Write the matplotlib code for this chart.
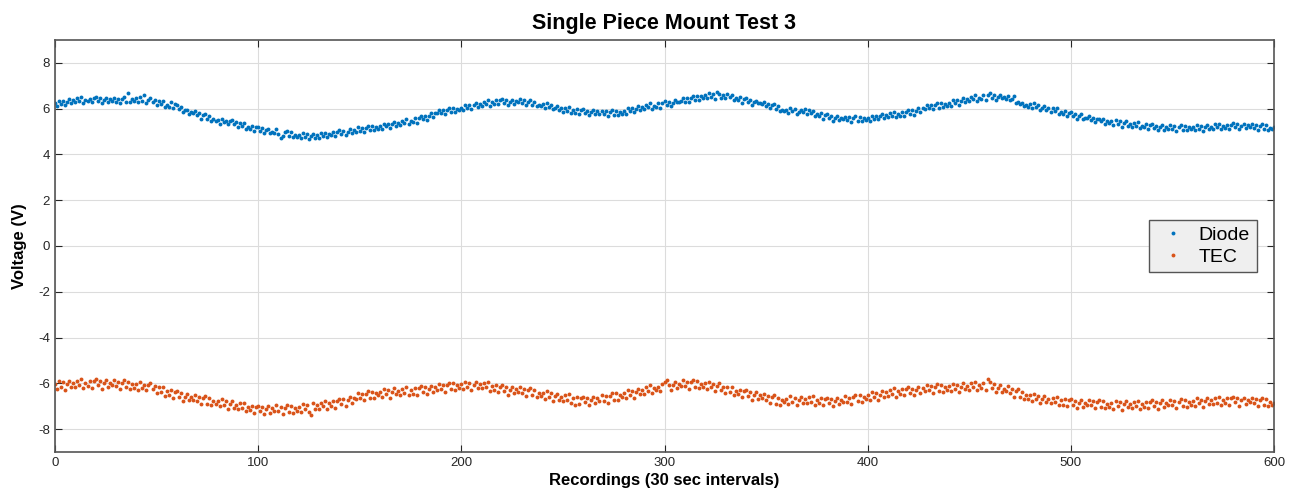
# Single Piece Mount Test 3 - diode and TEC voltage per recording

import numpy as np
import matplotlib
matplotlib.use('Agg')
import matplotlib.pyplot as plt

# recordings 0..600 (one every 30 s)
recordings = np.arange(0, 601)

# diode voltage (V)
diode = [
    6.25, 6.12, 6.35, 6.22, 6.34, 6.15, 6.31, 6.42, 6.25, 6.38,
    6.27, 6.46, 6.34, 6.51, 6.26, 6.40, 6.32, 6.44, 6.27, 6.45,
    6.52, 6.35, 6.46, 6.25, 6.39, 6.48, 6.28, 6.41, 6.33, 6.48,
    6.31, 6.44, 6.24, 6.42, 6.49, 6.30, 6.68, 6.27, 6.41, 6.33,
    6.45, 6.29, 6.49, 6.35, 6.60, 6.25, 6.39, 6.47, 6.27, 6.38,
    6.17, 6.33, 6.19, 6.33, 6.06, 6.18, 6.07, 6.30, 6.05, 6.21,
    6.17, 5.97, 6.06, 5.87, 5.93, 5.95, 5.78, 5.84, 5.83, 5.91,
    5.71, 5.80, 5.57, 5.72, 5.76, 5.53, 5.67, 5.44, 5.53, 5.46,
    5.50, 5.34, 5.54, 5.40, 5.47, 5.31, 5.44, 5.50, 5.31, 5.43,
    5.22, 5.38, 5.24, 5.38, 5.11, 5.20, 5.12, 5.25, 5.02, 5.18,
    5.22, 5.04, 5.14, 4.94, 5.05, 5.13, 4.92, 5.00, 4.95, 5.10,
    4.91, 4.72, 4.79, 4.96, 5.02, 4.80, 4.96, 4.75, 4.85, 4.78,
    4.85, 4.70, 4.92, 4.77, 4.88, 4.67, 4.82, 4.91, 4.73, 4.84,
    4.72, 4.92, 4.81, 4.95, 4.75, 4.88, 4.83, 4.99, 4.80, 4.99,
    5.07, 4.91, 5.04, 4.84, 5.00, 5.10, 4.92, 5.06, 5.00, 5.22,
    5.01, 5.15, 4.96, 5.15, 5.24, 5.06, 5.24, 5.06, 5.20, 5.13,
    5.25, 5.12, 5.35, 5.25, 5.34, 5.15, 5.31, 5.42, 5.26, 5.38,
    5.27, 5.47, 5.37, 5.55, 5.32, 5.48, 5.41, 5.58, 5.39, 5.59,
    5.67, 5.53, 5.68, 5.50, 5.68, 5.80, 5.64, 5.80, 5.80, 5.95,
    5.81, 5.95, 5.76, 5.95, 6.03, 5.85, 6.04, 5.86, 6.00, 5.95,
    6.05, 5.92, 6.16, 6.03, 6.16, 6.00, 6.14, 6.25, 6.09, 6.22,
    6.12, 6.31, 6.20, 6.37, 6.13, 6.28, 6.20, 6.36, 6.20, 6.39,
    6.42, 6.25, 6.37, 6.16, 6.31, 6.40, 6.21, 6.34, 6.27, 6.43,
    6.26, 6.37, 6.15, 6.31, 6.37, 6.16, 6.31, 6.10, 6.18, 6.10,
    6.20, 6.03, 6.23, 6.06, 6.15, 5.99, 6.01, 6.12, 5.96, 6.05,
    5.87, 6.04, 5.91, 6.06, 5.80, 5.93, 5.83, 5.98, 5.75, 5.92,
    5.97, 5.80, 5.91, 5.71, 5.85, 5.95, 5.75, 5.89, 5.78, 5.89,
    5.76, 5.88, 5.68, 5.86, 5.93, 5.73, 5.91, 5.71, 5.84, 5.78,
    5.90, 5.77, 6.01, 5.88, 6.01, 5.85, 5.99, 6.10, 5.94, 6.07,
    5.97, 6.17, 6.08, 6.24, 6.00, 6.13, 6.08, 6.25, 6.05, 6.24,
    6.32, 6.17, 6.30, 6.11, 6.26, 6.37, 6.30, 6.30, 6.32, 6.48,
    6.31, 6.45, 6.27, 6.47, 6.56, 6.38, 6.57, 6.39, 6.54, 6.47,
    6.60, 6.45, 6.67, 6.52, 6.63, 6.42, 6.72, 6.66, 6.48, 6.59,
    6.47, 6.63, 6.49, 6.61, 6.36, 6.45, 6.37, 6.50, 6.25, 6.41,
    6.47, 6.28, 6.38, 6.15, 6.28, 6.35, 6.24, 6.25, 6.22, 6.31,
    6.11, 6.20, 6.05, 6.17, 6.22, 5.98, 6.10, 5.90, 5.95, 5.88,
    5.95, 5.80, 6.02, 5.88, 5.97, 5.76, 5.87, 5.96, 5.86, 5.98,
    5.77, 5.93, 5.79, 5.91, 5.66, 5.77, 5.67, 5.80, 5.57, 5.71,
    5.77, 5.59, 5.70, 5.48, 5.60, 5.70, 5.50, 5.58, 5.54, 5.64,
    5.51, 5.63, 5.43, 5.61, 5.68, 5.48, 5.65, 5.45, 5.58, 5.49,
    5.60, 5.47, 5.70, 5.56, 5.69, 5.55, 5.70, 5.77, 5.60, 5.72,
    5.62, 5.81, 5.70, 5.87, 5.63, 5.78, 5.70, 5.86, 5.70, 5.85,
    5.92, 5.78, 5.92, 5.74, 5.91, 6.03, 5.86, 6.02, 5.99, 6.16,
    6.01, 6.15, 5.98, 6.15, 6.23, 6.05, 6.24, 6.06, 6.20, 6.13,
    6.25, 6.12, 6.36, 6.23, 6.36, 6.17, 6.34, 6.45, 6.29, 6.42,
    6.32, 6.52, 6.41, 6.59, 6.35, 6.48, 6.43, 6.60, 6.40, 6.59,
    6.67, 6.48, 6.59, 6.37, 6.50, 6.58, 6.46, 6.53, 6.43, 6.55,
    6.36, 6.42, 6.56, 6.26, 6.31, 6.21, 6.25, 6.10, 6.17, 6.08,
    6.20, 6.03, 6.23, 6.06, 6.15, 5.92, 6.03, 6.12, 5.96, 6.05,
    5.87, 6.03, 5.89, 6.03, 5.76, 5.85, 5.77, 5.90, 5.67, 5.81,
    5.87, 5.68, 5.78, 5.55, 5.67, 5.75, 5.54, 5.61, 5.59, 5.70,
    5.51, 5.58, 5.41, 5.56, 5.56, 5.47, 5.56, 5.35, 5.46, 5.38,
    5.45, 5.29, 5.50, 5.34, 5.44, 5.22, 5.36, 5.44, 5.25, 5.35,
    5.22, 5.39, 5.26, 5.40, 5.15, 5.25, 5.18, 5.32, 5.10, 5.27,
    5.32, 5.15, 5.26, 5.05, 5.18, 5.27, 5.08, 5.21, 5.11, 5.28,
    5.11, 5.23, 5.03, 5.21, 5.28, 5.08, 5.25, 5.05, 5.18, 5.09,
    5.20, 5.05, 5.27, 5.11, 5.23, 5.03, 5.18, 5.29, 5.11, 5.22,
    5.12, 5.31, 5.19, 5.34, 5.10, 5.23, 5.15, 5.30, 5.10, 5.28,
    5.37, 5.20, 5.31, 5.10, 5.24, 5.33, 5.15, 5.28, 5.21, 5.32,
    5.16, 5.28, 5.08, 5.26, 5.33, 5.12, 5.27, 5.06, 5.17, 5.09,
    5.18,
]

# TEC voltage (V)
tec = [
    -6.02, -6.25, -5.91, -6.14, -5.96, -6.28, -6.04, -5.91, -6.16, -6.00,
    -6.17, -5.91, -6.08, -5.83, -6.21, -5.98, -6.11, -5.90, -6.20, -5.91,
    -5.83, -6.09, -5.91, -6.23, -6.00, -5.87, -6.16, -5.98, -6.09, -5.85,
    -6.11, -5.94, -6.24, -5.97, -5.87, -6.18, -5.94, -6.23, -6.05, -6.19,
    -6.02, -6.27, -5.96, -6.21, -6.06, -6.30, -6.09, -5.98, -6.26, -6.12,
    -6.42, -6.18, -6.38, -6.16, -6.55, -6.35, -6.51, -6.31, -6.64, -6.39,
    -6.33, -6.60, -6.44, -6.77, -6.58, -6.45, -6.75, -6.58, -6.71, -6.49,
    -6.76, -6.60, -6.91, -6.65, -6.57, -6.89, -6.65, -6.96, -6.78, -6.92,
    -6.77, -7.01, -6.70, -6.94, -6.79, -7.13, -6.91, -6.79, -7.07, -6.93,
    -7.12, -6.88, -7.07, -6.85, -7.23, -7.03, -7.18, -6.97, -7.30, -7.05,
    -6.98, -7.23, -7.05, -7.36, -7.13, -7.00, -7.28, -7.09, -7.20, -6.96,
    -7.21, -7.03, -7.33, -7.06, -6.95, -7.25, -6.99, -7.28, -7.08, -7.19,
    -7.02, -7.24, -6.90, -7.12, -6.94, -7.25, -7.38, -6.87, -7.12, -6.95,
    -7.12, -6.85, -7.01, -6.76, -7.11, -6.88, -7.00, -6.77, -7.06, -6.78,
    -6.68, -6.91, -6.70, -6.98, -6.75, -6.58, -6.84, -6.62, -6.68, -6.43,
    -6.66, -6.47, -6.75, -6.46, -6.35, -6.64, -6.37, -6.65, -6.44, -6.52,
    -6.37, -6.60, -6.26, -6.48, -6.31, -6.63, -6.40, -6.22, -6.48, -6.35,
    -6.52, -6.25, -6.42, -6.17, -6.53, -6.30, -6.45, -6.20, -6.50, -6.22,
    -6.13, -6.37, -6.18, -6.48, -6.24, -6.10, -6.37, -6.17, -6.27, -6.02,
    -6.26, -6.07, -6.36, -6.08, -5.98, -6.26, -6.00, -6.28, -6.08, -6.20,
    -6.02, -6.25, -5.92, -6.15, -5.98, -6.30, -6.07, -5.94, -6.20, -6.04,
    -6.22, -5.98, -6.17, -5.95, -6.33, -6.13, -6.28, -6.09, -6.40, -6.15,
    -6.08, -6.34, -6.17, -6.49, -6.27, -6.15, -6.44, -6.26, -6.38, -6.15,
    -6.41, -6.25, -6.56, -6.30, -6.21, -6.53, -6.30, -6.60, -6.43, -6.57,
    -6.42, -6.67, -6.35, -6.60, -6.44, -6.78, -6.56, -6.45, -6.72, -6.58,
    -6.77, -6.52, -6.71, -6.48, -6.86, -6.65, -6.95, -6.60, -6.91, -6.65,
    -6.58, -6.83, -6.65, -6.96, -6.73, -6.59, -6.86, -6.66, -6.76, -6.52,
    -6.76, -6.56, -6.84, -6.55, -6.43, -6.71, -6.44, -6.71, -6.50, -6.61,
    -6.42, -6.64, -6.29, -6.51, -6.32, -6.63, -6.40, -6.23, -6.48, -6.30,
    -6.47, -6.18, -6.35, -6.08, -6.42, -6.19, -6.31, -6.15, -6.33, -6.04,
    -5.93, -5.85, -6.08, -6.29, -6.06, -5.93, -6.20, -6.01, -6.11, -5.86,
    -6.11, -5.93, -6.23, -5.96, -5.86, -6.16, -5.91, -6.20, -6.01, -6.14,
    -5.97, -6.23, -5.92, -6.18, -6.03, -6.33, -6.12, -5.99, -6.30, -6.17,
    -6.42, -6.18, -6.37, -6.15, -6.53, -6.33, -6.48, -6.27, -6.60, -6.34,
    -6.28, -6.55, -6.39, -6.72, -6.53, -6.40, -6.70, -6.53, -6.66, -6.46,
    -6.71, -6.54, -6.85, -6.59, -6.50, -6.90, -6.65, -6.95, -6.72, -6.83,
    -6.67, -6.90, -6.57, -6.80, -6.63, -6.95, -6.72, -6.59, -6.85, -6.69,
    -6.87, -6.61, -6.80, -6.57, -6.94, -6.73, -6.87, -6.64, -6.94, -6.70,
    -6.63, -6.88, -6.70, -7.00, -6.76, -6.63, -6.91, -6.71, -6.81, -6.56,
    -6.81, -6.62, -6.90, -6.61, -6.51, -6.79, -6.52, -6.80, -6.60, -6.70,
    -6.52, -6.74, -6.39, -6.61, -6.42, -6.73, -6.50, -6.33, -6.58, -6.40,
    -6.57, -6.30, -6.47, -6.22, -6.58, -6.35, -6.48, -6.23, -6.53, -6.25,
    -6.18, -6.42, -6.23, -6.53, -6.29, -6.15, -6.42, -6.22, -6.32, -6.07,
    -6.31, -6.13, -6.42, -6.15, -6.05, -6.34, -6.09, -6.37, -6.18, -6.30,
    -6.12, -6.35, -6.01, -6.24, -6.06, -6.38, -6.15, -6.00, -6.26, -6.10,
    -6.27, -6.00, -6.18, -5.94, -6.31, -6.08, -6.22, -5.99, -6.29, -5.80,
    -5.93, -6.21, -6.05, -6.39, -6.20, -6.07, -6.38, -6.23, -6.35, -6.13,
    -6.41, -6.26, -6.58, -6.33, -6.25, -6.59, -6.36, -6.68, -6.51, -6.67,
    -6.52, -6.77, -6.45, -6.70, -6.54, -6.88, -6.69, -6.56, -6.82, -6.68,
    -6.87, -6.62, -6.81, -6.58, -6.96, -6.75, -6.95, -6.70, -7.01, -6.75,
    -6.68, -6.94, -6.76, -7.08, -6.87, -6.75, -7.03, -6.85, -6.96, -6.72,
    -6.96, -6.79, -7.09, -6.82, -6.73, -7.03, -6.79, -7.08, -6.91, -7.04,
    -6.87, -7.10, -6.77, -7.00, -6.83, -7.15, -6.92, -6.79, -7.05, -6.89,
    -7.07, -6.81, -6.99, -6.76, -7.13, -6.91, -7.04, -6.81, -7.09, -6.81,
    -6.73, -6.98, -6.80, -7.11, -6.88, -6.75, -7.03, -6.84, -6.95, -6.71,
    -6.96, -6.78, -7.07, -6.80, -6.70, -6.99, -6.74, -7.03, -6.83, -6.94,
    -6.77, -7.00, -6.66, -6.88, -6.71, -7.02, -6.79, -6.66, -6.91, -6.75,
    -6.92, -6.66, -6.84, -6.59, -6.95, -6.73, -6.86, -6.63, -6.94, -6.65,
    -6.58, -6.83, -6.66, -6.97, -6.74, -6.62, -6.90, -6.72, -6.83, -6.62,
    -6.86, -6.68, -6.99, -6.73, -6.63, -6.93, -6.69, -6.99, -6.80, -6.94,
    -6.88,
]

x_ticks = [0, 100, 200, 300, 400, 500, 600]
y_ticks = [-8, -6, -4, -2, 0, 2, 4, 6, 8]

plt.rcParams['font.family'] = ['Liberation Sans', 'DejaVu Sans']
plt.rcParams['axes.unicode_minus'] = False

fig = plt.figure(figsize=(12.94, 4.98), dpi=100)
ax = fig.add_axes([55 / 1294, 1 - 452 / 498, 1219 / 1294, 412 / 498])

ax.plot(recordings, diode, 'o', color='#0072BD', markersize=2.8, markeredgewidth=0, label='Diode')
ax.plot(recordings, tec, 'o', color='#D95319', markersize=2.8, markeredgewidth=0, label='TEC')

ax.set_xlim(0, 600)
ax.set_ylim(-9, 9)
ax.set_xticks(x_ticks)
ax.set_yticks(y_ticks)
ax.grid(True, color='#dcdcdc', linewidth=0.8)
ax.set_axisbelow(True)
ax.tick_params(direction='in', length=5, width=0.8, top=True, right=True,
               labelsize=9.5, colors='#262626')
for s in ax.spines.values():
    s.set_color('#555555')
    s.set_linewidth(1.2)

ax.set_title('Single Piece Mount Test 3', fontsize=15.5, fontweight='bold', pad=8)
ax.set_xlabel('Recordings (30 sec intervals)', fontsize=12, fontweight='bold', labelpad=3)
ax.set_ylabel('Voltage (V)', fontsize=12, fontweight='bold', labelpad=8)

leg = ax.legend(loc='center right', bbox_to_anchor=(0.9905, 0.5), fontsize=14,
                markerscale=1.0, fancybox=False, framealpha=1, edgecolor='#555555',
                handletextpad=0.4, borderpad=0.35, labelspacing=0.2, handlelength=1.8,
                borderaxespad=0.3)
leg.get_frame().set_facecolor('#efefef')

fig.savefig('out.png', dpi=100)
